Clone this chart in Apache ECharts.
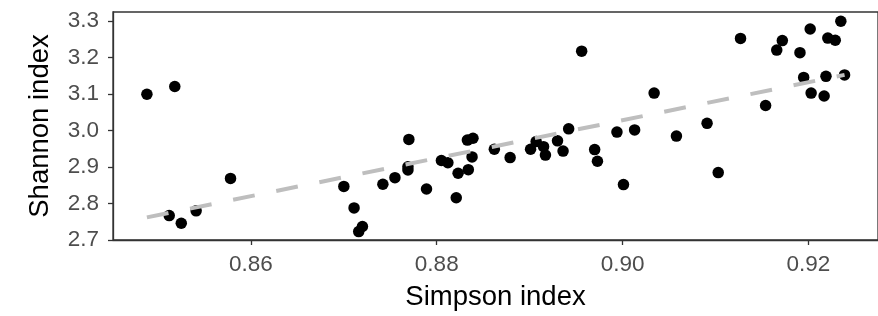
<!DOCTYPE html>
<html>
<head>
<meta charset="utf-8">
<script src="https://cdn.jsdelivr.net/npm/echarts@6/dist/echarts.min.js"></script>
<style>
html,body{margin:0;padding:0;background:#fff;}
#chart{width:878px;height:316px;}
</style>
</head>
<body>
<div id="chart"></div>
<script>
// Data
var simpson = [
  0.8488, 0.8518, 0.8512, 0.8525, 0.8541, 0.8578,
  0.8700, 0.8711, 0.8716, 0.8720, 0.8742, 0.8755, 0.8769, 0.8769, 0.8770,
  0.8789, 0.8805, 0.8812, 0.8821, 0.8823, 0.8834, 0.8833, 0.8839, 0.8838,
  0.8862, 0.8879, 0.8901, 0.8907, 0.8915, 0.8917, 0.8930, 0.8936, 0.8942,
  0.8956, 0.8970, 0.8973, 0.8994, 0.9001, 0.9013, 0.9034, 0.9058,
  0.9091, 0.9103, 0.9127, 0.9154, 0.9166, 0.9172, 0.9191, 0.9195, 0.9202,
  0.9203, 0.9217, 0.9219, 0.9221, 0.9229, 0.9235, 0.9239
];
var shannon = [
  3.100, 3.121, 2.767, 2.746, 2.780, 2.869,
  2.847, 2.788, 2.723, 2.737, 2.853, 2.871, 2.901, 2.892, 2.976,
  2.840, 2.918, 2.912, 2.816, 2.883, 2.893, 2.974, 2.979, 2.928,
  2.949, 2.926, 2.949, 2.970, 2.956, 2.933, 2.972, 2.944, 3.005,
  3.218, 2.948, 2.916, 2.996, 2.852, 3.002, 3.103, 2.985,
  3.020, 2.885, 3.253, 3.069, 3.221, 3.247, 3.214, 3.146, 3.279,
  3.103, 3.095, 3.149, 3.254, 3.248, 3.300, 3.153
];
// Fitted trend line end points
var trendX = [0.8488, 0.9239];
var trendY = [2.762, 3.153];
// Tick labels
var xTicks = [0.86, 0.88, 0.90, 0.92];
var yTicks = [2.7, 2.8, 2.9, 3.0, 3.1, 3.2, 3.3];

var points = simpson.map(function (x, i) { return [x, shannon[i]]; });
var trend = trendX.map(function (x, i) { return [x, trendY[i]]; });

var chart = echarts.init(document.getElementById('chart'), null, {renderer: 'canvas'});
var font = 'Liberation Sans, Arial, Helvetica, sans-serif';
chart.setOption({
  animation: false,
  backgroundColor: '#ffffff',
  grid: {
    left: 113, top: 12, right: -2, bottom: 76,
    show: true, borderColor: '#333333', borderWidth: 1.3, backgroundColor: '#ffffff'
  },
  xAxis: {
    type: 'value',
    min: 0.84515, max: 0.9275,
    name: 'Simpson index',
    nameLocation: 'middle',
    nameGap: 43,
    nameTextStyle: {fontFamily: font, fontSize: 27.5, color: '#000000'},
    axisLine: {show: true, lineStyle: {color: '#333333', width: 1.3}},
    axisTick: {show: true, length: 5, lineStyle: {color: '#333333', width: 1.3}, customValues: xTicks},
    axisLabel: {
      fontFamily: font, fontSize: 22.5, color: '#4d4d4d', margin: 13,
      customValues: xTicks,
      formatter: function (v) { return v.toFixed(2); }
    },
    splitLine: {show: false}
  },
  yAxis: {
    type: 'value',
    min: 2.7, max: 3.3255,
    name: 'Shannon index',
    nameLocation: 'middle',
    nameGap: 59,
    nameTextStyle: {fontFamily: font, fontSize: 27.5, color: '#000000'},
    axisLine: {show: true, lineStyle: {color: '#333333', width: 1.3}},
    axisTick: {show: true, length: 5, lineStyle: {color: '#333333', width: 1.3}, customValues: yTicks},
    axisLabel: {
      fontFamily: font, fontSize: 22.5, color: '#4d4d4d', margin: 14,
      customValues: yTicks,
      formatter: function (v) { return v.toFixed(1); }
    },
    splitLine: {show: false}
  },
  series: [
    {
      type: 'scatter',
      data: points,
      symbol: 'circle',
      symbolSize: 11.5,
      itemStyle: {color: '#000000', opacity: 1},
      z: 2
    },
    {
      type: 'line',
      data: trend,
      showSymbol: false,
      symbol: 'none',
      lineStyle: {color: '#bebebe', width: 4, type: [22, 22]},
      z: 3
    }
  ]
});
</script>
</body>
</html>
